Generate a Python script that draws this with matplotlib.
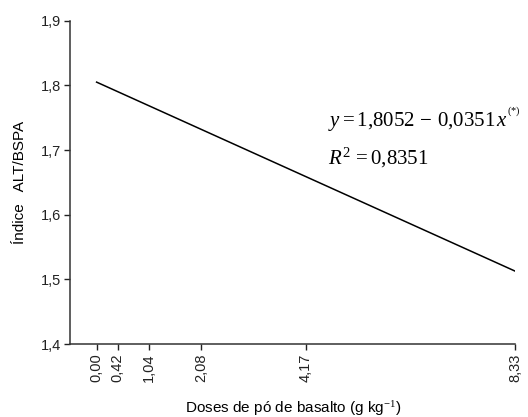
import matplotlib
matplotlib.use("Agg")
import matplotlib.pyplot as plt
import numpy as np

# regression fit
intercept = 1.8052
slope = -0.0351
doses = [0.00, 0.42, 1.04, 2.08, 4.17, 8.33]
dose_labels = ["0,00", "0,42", "1,04", "2,08", "4,17", "8,33"]
y_ticks = [1.4, 1.5, 1.6, 1.7, 1.8, 1.9]
y_labels = ["1,4", "1,5", "1,6", "1,7", "1,8", "1,9"]

plt.rcParams['font.family'] = ['Liberation Sans', 'DejaVu Sans']
plt.rcParams['mathtext.fontset'] = 'custom'
plt.rcParams['mathtext.rm'] = 'Liberation Serif'
plt.rcParams['mathtext.it'] = 'Liberation Serif:italic'

fig = plt.figure(figsize=(5.28, 4.17), dpi=100)
ax = fig.add_axes([0.1335, 0.175, 0.842, 0.775])

x = np.array([doses[0], doses[-1]])
ax.plot(x, intercept + slope * x, color='black', lw=1.1)

ax.set_xlim(-0.52, 8.33)
ax.set_ylim(1.4, 1.9)
ax.set_xticks(doses)
ax.set_xticklabels(dose_labels, rotation=90)
ax.set_yticks(y_ticks)
ax.set_yticklabels(y_labels)
ax.tick_params(direction='out', length=4, width=1, labelsize=10.5, pad=3, colors='#222222')
for s in ['top', 'right']:
    ax.spines[s].set_visible(False)
for s in ['left', 'bottom']:
    ax.spines[s].set_linewidth(1.1)
    ax.spines[s].set_color('#333333')

ax.set_xlabel("Doses de pó de basalto (g kg$^{-1}$)", fontsize=11, labelpad=12)
ax.set_ylabel("Índice   ALT/BSPA", fontsize=11, labelpad=10)

ax.text(0.579, 0.693, r"$y = 1{,}8052\,-\,0{,}0351\,x^{^{(*)}}$", transform=ax.transAxes,
        fontsize=15, va='center', ha='left')
ax.text(0.579, 0.576, r"$R^{2}\,=0{,}8351$", transform=ax.transAxes,
        fontsize=15, va='center', ha='left')

fig.savefig("out.png", dpi=100)
